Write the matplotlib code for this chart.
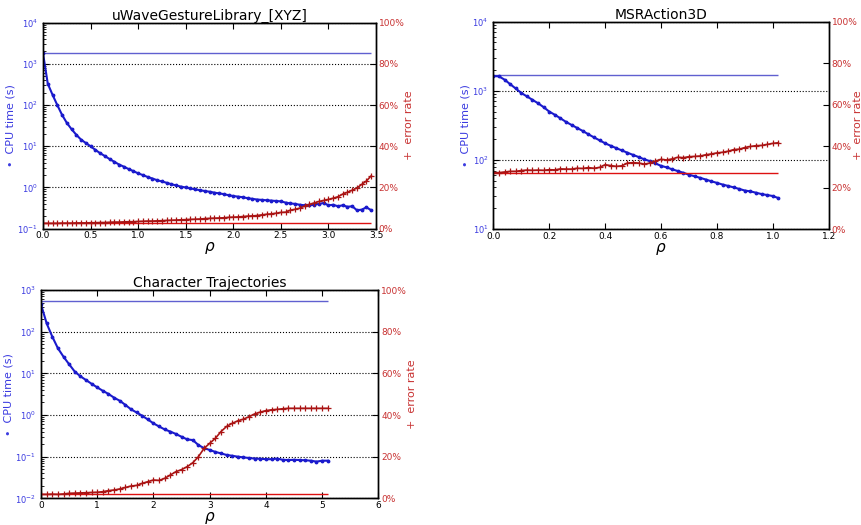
import numpy as np
import matplotlib
matplotlib.use("Agg")
import matplotlib.pyplot as plt
from matplotlib.ticker import FuncFormatter, LogLocator

# --- data ---
# uWaveGestureLibrary_[XYZ], rho step 0.05
uwave_rho = np.round(np.arange(0, 3.46, 0.05), 2)
uwave_cpu = [1800, 330, 178, 100, 58, 37, 26, 19, 14.5, 12,
             10, 8.2, 6.8, 5.8, 4.9, 4.2, 3.6, 3.2, 2.8, 2.5,
             2.2, 2.0, 1.8, 1.65, 1.5, 1.4, 1.3, 1.2, 1.12, 1.05,
             1.0, 0.95, 0.9, 0.86, 0.82, 0.79, 0.75, 0.72, 0.69, 0.65,
             0.62, 0.6, 0.58, 0.55, 0.53, 0.51, 0.5, 0.49, 0.48, 0.47,
             0.46, 0.43, 0.41, 0.4, 0.38, 0.37, 0.37, 0.38, 0.4, 0.42,
             0.37, 0.38, 0.35, 0.37, 0.34, 0.35, 0.28, 0.29, 0.33, 0.28]
uwave_err = [.026, .026, .026, .026, .027, .027, .027, .028, .028, .028,
             .029, .029, .030, .030, .031, .032, .032, .033, .034, .034,
             .035, .036, .037, .037, .038, .039, .040, .041, .042, .043,
             .044, .045, .046, .047, .049, .050, .051, .052, .053, .055,
             .056, .057, .059, .061, .062, .064, .067, .070, .072, .075,
             .079, .080, .090, .094, .100, .110, .118, .125, .132, .137,
             .142, .148, .155, .168, .177, .187, .198, .215, .232, .257]
uwave_cpu_ref = 1880
uwave_err_ref = 0.026

# MSRAction3D, rho step 0.02
msr_rho = np.round(np.arange(0, 1.03, 0.02), 2)
msr_cpu = [1630, 1620, 1450, 1250, 1080, 930, 830, 740, 660, 580,
           500, 450, 400, 355, 320, 290, 262, 235, 212, 192,
           174, 160, 148, 137, 127, 118, 110, 102, 96, 89,
           82, 78, 73, 69, 65, 61, 58, 55, 52, 49,
           46.5, 44, 42, 40, 38, 36, 35, 33.5, 32, 31,
           30, 28]
msr_err = [.272, .272, .275, .278, .278, .282, .284, .283, .284, .283,
           .286, .285, .290, .289, .289, .293, .292, .296, .293, .297,
           .310, .306, .302, .305, .318, .320, .318, .313, .318, .328,
           .336, .333, .338, .346, .344, .349, .350, .352, .358, .362,
           .367, .370, .375, .383, .385, .393, .398, .402, .403, .408,
           .413, .416]
msr_cpu_ref = 1670
msr_err_ref = 0.272

# Character Trajectories, rho step 0.1
char_rho = np.round(np.arange(0, 5.11, 0.1), 1)
char_cpu = [450, 158, 76, 40, 25, 16.5, 11, 8.5, 6.9, 5.6,
            4.6, 3.8, 3.2, 2.6, 2.2, 1.75, 1.37, 1.15, 0.96, 0.78,
            0.63, 0.53, 0.45, 0.4, 0.35, 0.3, 0.26, 0.25, 0.19, 0.16,
            0.145, 0.13, 0.12, 0.11, 0.105, 0.1, 0.096, 0.093, 0.09, 0.089,
            0.087, 0.087, 0.09, 0.084, 0.083, 0.084, 0.083, 0.082, 0.08, 0.076,
            0.08, 0.08]
char_err = [.019, .019, .020, .019, .021, .024, .025, .026, .027, .028,
            .029, .032, .037, .040, .045, .052, .059, .062, .072, .080,
            .088, .086, .096, .112, .128, .138, .152, .171, .200, .240,
            .264, .288, .320, .345, .360, .372, .380, .392, .405, .414,
            .421, .425, .427, .430, .432, .432, .432, .432, .432, .432,
            .432, .432]
char_cpu_ref = 535
char_err_ref = 0.019

# colours
BLUE = '#1a1acc'
BLUE_REF = '#6060d0'
BLUE_TXT = '#3a3ae0'
RED = '#aa1414'
RED_REF = '#dd1111'
RED_TXT = '#c83232'


def panel(pos, title, rho, cpu, err, cpu_ref, err_ref, xlim, xticks, xfmt, ylim, rlabel_x):
    ax = fig.add_axes(pos)
    ax2 = ax.twinx()

    # cpu time, log scale
    ax.hlines(cpu_ref, rho[0], rho[-1], color=BLUE_REF, lw=1.0)
    ax.plot(rho, cpu, color=BLUE, marker='.', ms=3.5, lw=1.5)
    ax.set_yscale('log')
    ax.set_ylim(*ylim)
    ax.set_xlim(*xlim)
    ax.set_xticks(xticks)
    ax.set_xticklabels([xfmt % t for t in xticks])
    ax.yaxis.set_major_locator(LogLocator(base=10))
    ax.yaxis.set_minor_locator(LogLocator(base=10, subs=np.arange(2, 10)))
    ax.yaxis.grid(True, which='major', linestyle=':', color='k', lw=0.8)
    ax.tick_params(axis='y', which='both', direction='in', labelcolor=BLUE_TXT,
                   color='k', labelsize=6, left=True, right=False)
    ax.tick_params(axis='y', which='major', length=4)
    ax.tick_params(axis='y', which='minor', length=2)
    ax.tick_params(axis='x', direction='in', top=True, labelsize=6.5, pad=2, length=4)
    ax.set_xlabel(r'$\rho$', fontsize=11, labelpad=0)
    ax.set_ylabel(u'\u2022  CPU time (s)', color=BLUE_TXT, fontsize=8, labelpad=1)
    ax.set_title(title, fontsize=10, pad=2)

    # error rate, linear
    ax2.hlines(err_ref, rho[0], rho[-1], color=RED_REF, lw=1.0)
    ax2.plot(rho, err, color=RED, marker='+', ms=4, mew=0.9, lw=1.2)
    ax2.set_ylim(0, 1)
    ax2.set_yticks([0, 0.2, 0.4, 0.6, 0.8, 1.0])
    ax2.yaxis.set_major_formatter(FuncFormatter(lambda v, p: '%d%%' % round(v * 100)))
    ax2.tick_params(axis='y', direction='in', labelcolor=RED_TXT, color='k',
                    labelsize=6.5, pad=2, length=4)
    ax2.set_ylabel('+  error rate', color=RED_TXT, fontsize=8)
    ax2.yaxis.set_label_coords(rlabel_x, 0.5)

    for a in (ax, ax2):
        for s in a.spines.values():
            s.set_linewidth(1.0)
    return ax, ax2


fig = plt.figure(figsize=(8.62, 5.25), dpi=100)

panel([0.0499, 0.5644, 0.3863, 0.3924], 'uWaveGestureLibrary_[XYZ]',
      uwave_rho, uwave_cpu, uwave_err, uwave_cpu_ref, uwave_err_ref,
      (0, 3.5), [0, 0.5, 1.0, 1.5, 2.0, 2.5, 3.0, 3.5], '%.1f', (1e-1, 1e4), 1.085)

panel([0.5723, 0.5638, 0.3891, 0.3949], 'MSRAction3D',
      msr_rho, msr_cpu, msr_err, msr_cpu_ref, msr_err_ref,
      (0, 1.2), [0, 0.2, 0.4, 0.6, 0.8, 1.0, 1.2], '%.1f', (1e1, 1e4), 1.072)

panel([0.0476, 0.0508, 0.3913, 0.3968], 'Character Trajectories',
      char_rho, char_cpu, char_err, char_cpu_ref, char_err_ref,
      (0, 6), [0, 1, 2, 3, 4, 5, 6], '%d', (1e-2, 1e3), 1.085)

fig.savefig('out.png', dpi=100)
